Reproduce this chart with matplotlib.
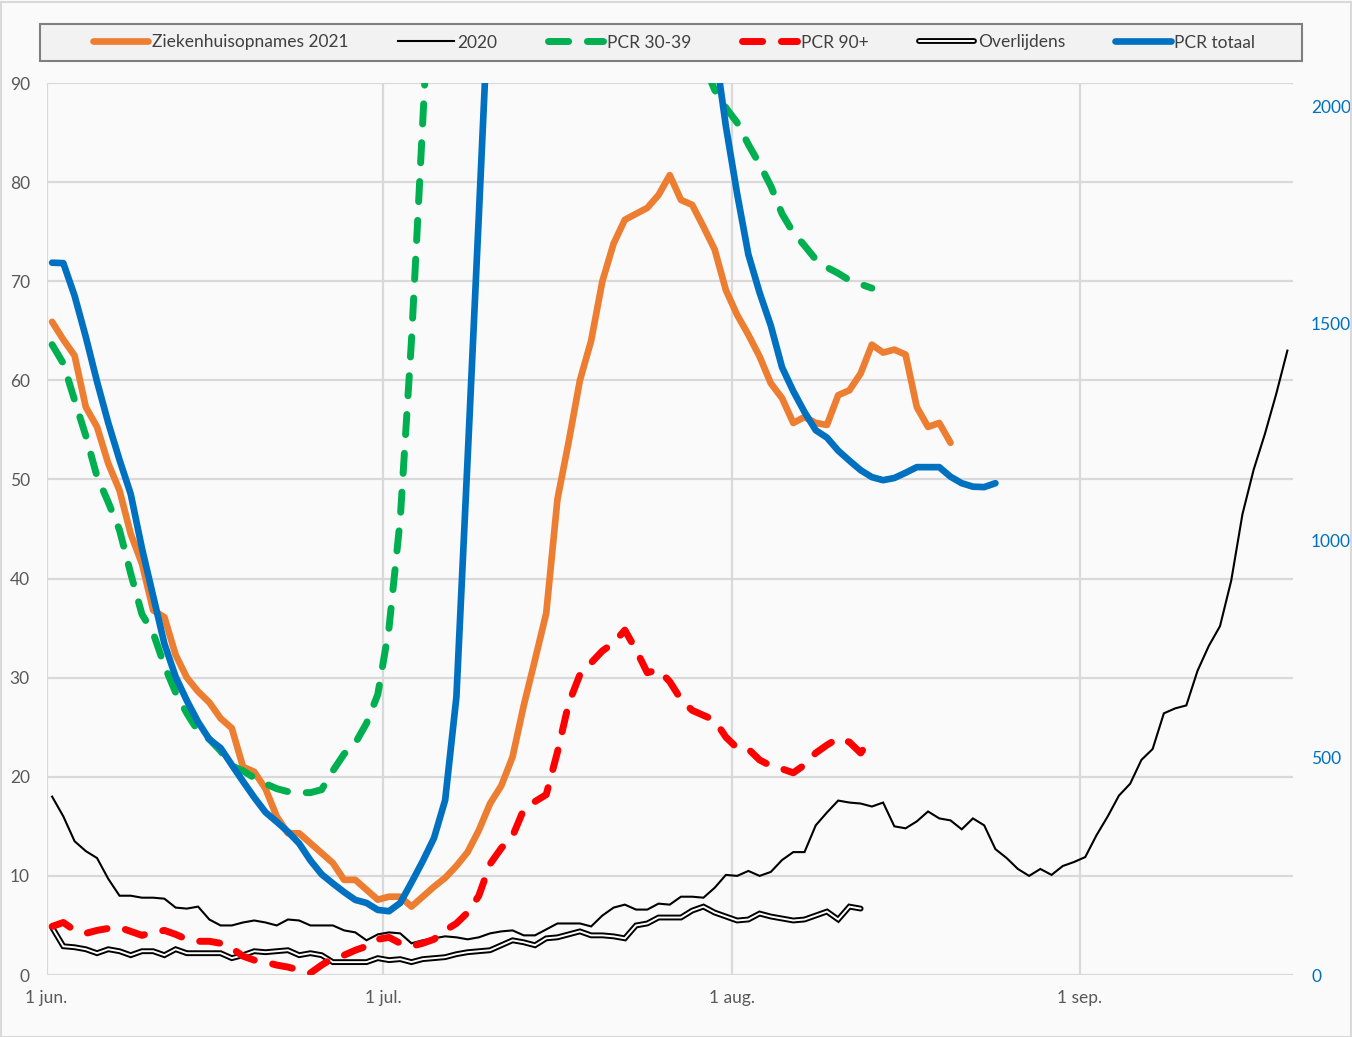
import numpy as np
import matplotlib
matplotlib.use("Agg")
import matplotlib.pyplot as plt
from matplotlib.patches import Rectangle
import matplotlib.patheffects as pe

plt.rcParams['font.family'] = ['Lato', 'DejaVu Sans']

# ---------------- data (one value per day, starting 1 June) ----------------
month_ticks = [0, 30, 61, 92]
month_labels = ['1 jun.', '1 jul.', '1 aug.', '1 sep.']
left_ticks = [0, 10, 20, 30, 40, 50, 60, 70, 80, 90]
right_ticks = [0, 500, 1000, 1500, 2000]

labels = ['Ziekenhuisopnames 2021', '2020', 'PCR 30-39', 'PCR 90+', 'Overlijdens', 'PCR totaal']

ziekenhuis_2021 = [65.9, 64.1, 62.5, 57.3, 55.3, 51.6, 48.9, 44.5, 41.5, 36.8,
                   36.1, 32.3, 30.0, 28.6, 27.5, 25.9, 24.9, 21.0, 20.5, 18.8,
                   16.0, 14.3, 14.3, 13.3, 12.3, 11.3, 9.6, 9.6, 8.6, 7.6,
                   7.9, 7.9, 6.9, 7.9, 8.9, 9.8, 11.0, 12.4, 14.6, 17.3,
                   19.1, 22.0, 27.2, 31.8, 36.5, 48.0, 53.8, 60.0, 64.0, 70.0,
                   73.8, 76.2, 76.8, 77.4, 78.7, 80.7, 78.2, 77.7, 75.5, 73.2,
                   69.1, 66.6, 64.6, 62.4, 59.7, 58.2, 55.7, 56.3, 55.7, 55.5,
                   58.5, 59.0, 60.7, 63.6, 62.8, 63.1, 62.6, 57.3, 55.3, 55.7,
                   53.7]

jaar_2020 = [18.0, 16.0, 13.5, 12.5, 11.8, 9.7, 8.0, 8.0, 7.8, 7.8,
             7.7, 6.8, 6.7, 6.9, 5.6, 5.0, 5.0, 5.3, 5.5, 5.3,
             5.0, 5.6, 5.5, 5.0, 5.0, 5.0, 4.5, 4.3, 3.5, 4.1,
             4.3, 4.2, 3.2, 3.5, 3.7, 3.9, 3.8, 3.6, 3.8, 4.2,
             4.4, 4.5, 4.0, 4.0, 4.6, 5.2, 5.2, 5.2, 4.9, 6.0,
             6.8, 7.1, 6.6, 6.6, 7.2, 7.1, 7.9, 7.9, 7.8, 8.8,
             10.1, 10.0, 10.5, 10.0, 10.4, 11.6, 12.4, 12.4, 15.1, 16.4,
             17.6, 17.4, 17.3, 17.0, 17.4, 15.0, 14.8, 15.5, 16.5, 15.8,
             15.6, 14.7, 15.8, 15.1, 12.7, 11.8, 10.7, 10.0, 10.7, 10.1,
             11.0, 11.4, 11.9, 14.1, 16.0, 18.1, 19.3, 21.7, 22.8, 26.4,
             26.9, 27.2, 30.7, 33.2, 35.2, 39.8, 46.5, 51.0, 54.6, 58.6,
             63.0]

pcr_30_39 = [63.6, 61.7, 58.0, 54.4, 50.3, 47.7, 44.9, 40.5, 36.4, 34.5,
             31.2, 28.5, 26.4, 24.6, 23.8, 22.6, 21.1, 20.6, 19.9, 19.3,
             18.8, 18.5, 18.4, 18.4, 18.7, 20.6, 22.3, 23.4, 25.4, 28.3,
             35.0, 46.0, 64.0, 86.0, 108.0, 135.0, 165.0, 195.0, 225.0, 250.0,
             270.0, 285.0, 290.0, 285.0, 270.0, 250.0, 230.0, 210.0, 190.0, 170.0,
             155.0, 140.0, 128.0, 118.0, 110.0, 104.0, 99.0, 95.0, 92.0, 89.3,
             87.5, 86.0, 83.8, 81.8, 79.6, 76.8, 74.9, 73.6, 72.2, 71.4,
             70.8, 70.1, 69.7, 69.3]

pcr_90_plus = [4.9, 5.3, 4.5, 4.2, 4.5, 4.7, 4.8, 4.4, 4.0, 4.3,
               4.5, 4.1, 3.6, 3.4, 3.4, 3.2, 2.7, 1.9, 1.5, 1.3,
               1.0, 0.8, 0.5, 0.2, 1.0, 1.7, 2.0, 2.5, 2.9, 3.6,
               3.8, 3.2, 2.9, 3.2, 3.6, 4.5, 5.2, 6.3, 8.0, 11.2,
               12.8, 14.0, 16.7, 17.5, 18.2, 22.5, 27.4, 30.3, 31.5, 32.7,
               33.5, 34.8, 32.8, 30.5, 30.8, 29.6, 27.8, 26.7, 26.2, 25.7,
               24.0, 22.9, 22.8, 21.7, 21.1, 20.8, 20.4, 21.2, 22.4, 23.2,
               23.9, 23.5, 22.4, 24.0]

overlijdens = [4.8, 2.9, 2.8, 2.6, 2.2, 2.6, 2.4, 2.0, 2.4, 2.4,
               2.0, 2.6, 2.2, 2.2, 2.2, 2.2, 1.7, 2.0, 2.4, 2.3,
               2.4, 2.5, 2.0, 2.2, 2.0, 1.3, 1.3, 1.3, 1.3, 1.7,
               1.5, 1.6, 1.3, 1.6, 1.7, 1.8, 2.1, 2.3, 2.4, 2.5,
               3.0, 3.5, 3.3, 3.0, 3.7, 3.8, 4.1, 4.4, 4.0, 4.0,
               3.9, 3.7, 5.0, 5.2, 5.8, 5.8, 5.8, 6.5, 6.9, 6.3,
               5.9, 5.5, 5.6, 6.2, 5.9, 5.7, 5.5, 5.6, 6.0, 6.4,
               5.6, 6.9, 6.7]

pcr_totaal = [1641, 1640, 1565, 1470, 1367, 1272, 1187, 1108, 983, 873,
              763, 687, 632, 583, 543, 523, 484, 446, 409, 375,
              353, 330, 303, 264, 232, 211, 191, 173, 166, 150,
              147, 166, 213, 262, 315, 403, 640, 1190, 1750, 2320,
              3100, 4200, 5500, 6800, 7800, 8500, 9000, 9500, 9800, 9400,
              8900, 8100, 7200, 6200, 5300, 4500, 3700, 3100, 2550, 2140,
              1955, 1800, 1660, 1572, 1496, 1400, 1345, 1297, 1255, 1238,
              1208, 1185, 1163, 1147, 1140, 1145, 1157, 1170, 1170, 1170,
              1148, 1133, 1125, 1124, 1133]


def days(series):
    # each value sits in the middle of its day slot (date axis)
    return np.arange(len(series)) + 0.5


# ---------------- figure ----------------
W, H = 1352, 1037
fig = plt.figure(figsize=(W / 100, H / 100), dpi=100, facecolor='#fafafa')

# outer border
fig.patches.append(Rectangle((0.5 / W, 0.5 / H), 1 - 2 / W, 1 - 2 / H,
                             transform=fig.transFigure, fill=False,
                             edgecolor='#d9d9d9', lw=1.5))

ax = fig.add_axes([46.5 / W, (H - 975) / H, (1293 - 46.5) / W, (975 - 83) / H])
ax.set_facecolor('#fafafa')
ax2 = ax.twinx()

orange = '#ED7D31'
blue = '#0070C0'
green = '#00B050'
red = '#FF0000'

dash = (0, (2.9, 2.7))

h1, = ax.plot(days(ziekenhuis_2021), ziekenhuis_2021, color=orange, lw=4.8,
              solid_capstyle='round', solid_joinstyle='round', zorder=3)
h2, = ax.plot(days(jaar_2020), jaar_2020, color='black', lw=1.5,
              solid_joinstyle='miter', zorder=4)
h3, = ax.plot(days(pcr_30_39), pcr_30_39, color=green, lw=5.0, linestyle=dash,
              dash_capstyle='round', dash_joinstyle='round', zorder=5)
h5, = ax.plot(days(overlijdens), overlijdens, color='white', lw=1.4,
              solid_capstyle='round', solid_joinstyle='miter', zorder=6,
              path_effects=[pe.Stroke(linewidth=4.2, foreground='black'), pe.Normal()])
h4, = ax.plot(days(pcr_90_plus), pcr_90_plus, color=red, lw=5.0, linestyle=dash,
              dash_capstyle='round', dash_joinstyle='round', zorder=7)
h6, = ax2.plot(days(pcr_totaal), pcr_totaal, color=blue, lw=4.8,
               solid_capstyle='round', solid_joinstyle='round', zorder=3)

# axes limits / ticks
ax.set_xlim(0, 111)
ax.set_ylim(0, 90)
ax2.set_ylim(0, 2055)

ax.set_xticks(month_ticks)
ax.set_xticklabels(month_labels)
ax.set_yticks(left_ticks)
ax2.set_yticks(right_ticks)

ax.tick_params(axis='both', length=0, labelsize=12.5, labelcolor='#595959')
ax.tick_params(axis='y', pad=12)
ax.tick_params(axis='x', pad=11)
ax2.tick_params(axis='y', length=0, labelsize=12.5, labelcolor=blue, pad=13)

for a in (ax, ax2):
    for s in a.spines.values():
        s.set_visible(False)

ax.set_axisbelow(True)
ax.grid(True, color='#d9d9d9', lw=1.6)
ax2.grid(False)

# legend box
fig.patches.append(Rectangle((40 / W, 1 - 61 / H), (1302 - 40) / W, (61 - 24) / H,
                             transform=fig.transFigure, facecolor='#f2f2f2',
                             edgecolor='#7f7f7f', lw=1.5, zorder=0))
fig.legend([h1, h2, h3, h4, h5, h6], labels, loc='center',
           bbox_to_anchor=(674 / W, 1 - 42.5 / H), ncol=6, frameon=False,
           fontsize=12.5, handlelength=3.2, handletextpad=0.2,
           columnspacing=2.9, labelcolor='#404040')

fig.savefig('out.png', dpi=100, facecolor=fig.get_facecolor())
